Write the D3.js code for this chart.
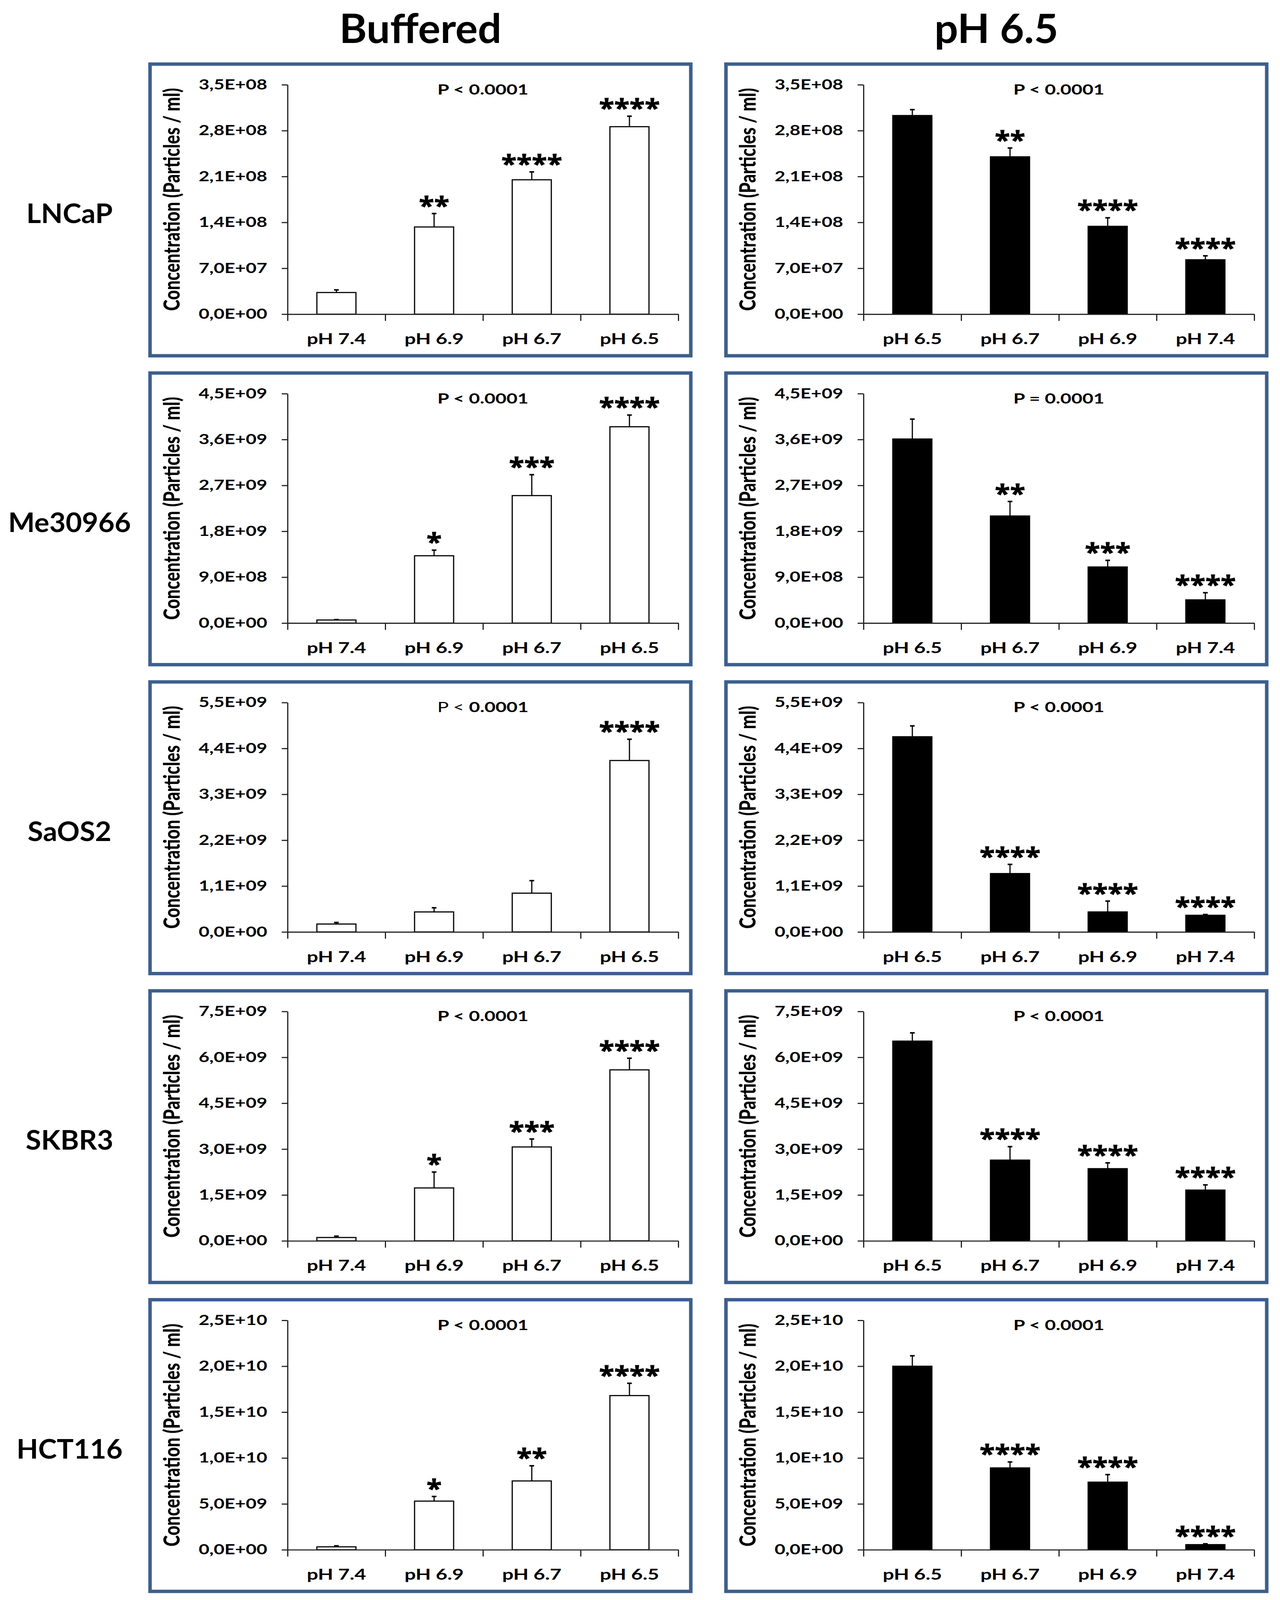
<!DOCTYPE html>
<head>
<meta charset="utf-8">
<script src="https://d3js.org/d3.v7.min.js"></script>
<style>
  html, body { margin: 0; padding: 0; background: #fff; overflow: hidden; }
  svg { display: block; }
  text { font-family: "Lato", "Open Sans", sans-serif; font-weight: 700; fill: #000; }
</style>
</head>
<body>
<div id="datavis"></div>
<script type="text/javascript">
// cell lines (one per row) and the two conditions (one per column)
var cellLines = ["LNCaP", "Me30966", "SaOS2", "SKBR3", "HCT116"];
var columnTitles = ["Buffered", "pH 6.5"];

// x categories of each column
var bufferedCats = ["pH 7.4", "pH 6.9", "pH 6.7", "pH 6.5"];
var acidCats = ["pH 6.5", "pH 6.7", "pH 6.9", "pH 7.4"];

// y axis: max and tick step per row
var yMax  = [3.5e8, 4.5e9, 5.5e9, 7.5e9, 2.5e10];
var yStep = [7.0e7, 9.0e8, 1.1e9, 1.5e9, 5.0e9];

// Buffered column: means and upper error (SD) per row
var bufferedMean = [
  [3.3e7, 1.33e8, 2.05e8, 2.86e8],
  [6.0e7, 1.32e9, 2.50e9, 3.85e9],
  [1.9e8, 4.8e8, 9.3e8, 4.11e9],
  [1.1e8, 1.73e9, 3.07e9, 5.59e9],
  [3.2e8, 5.30e9, 7.50e9, 1.68e10]
];
var bufferedErr = [
  [4.0e6, 2.05e7, 1.2e7, 1.6e7],
  [8.0e6, 1.1e8, 4.1e8, 2.3e8],
  [3.7e7, 1.0e8, 3.0e8, 5.1e8],
  [4.4e7, 5.2e8, 2.6e8, 3.8e8],
  [1.1e8, 5.1e8, 1.65e9, 1.34e9]
];
var bufferedStars = [
  ["", "**", "****", "****"],
  ["", "*", "***", "****"],
  ["", "", "", "****"],
  ["", "*", "***", "****"],
  ["", "*", "**", "****"]
];
// p value text split in two parts (the SaOS2 panel has a light "P <")
var bufferedP = [["P < ", "0.0001"], ["P < ", "0.0001"], ["P < ", "0.0001"], ["P < ", "0.0001"], ["P < ", "0.0001"]];
var bufferedPLight = [false, false, true, false, false];

// pH 6.5 column
var acidMean = [
  [3.03e8, 2.40e8, 1.34e8, 8.3e7],
  [3.61e9, 2.10e9, 1.10e9, 4.55e8],
  [4.68e9, 1.40e9, 4.8e8, 4.0e8],
  [6.53e9, 2.64e9, 2.36e9, 1.66e9],
  [2.00e10, 8.92e9, 7.37e9, 5.6e8]
];
var acidErr = [
  [9.0e6, 1.35e7, 1.3e7, 6.0e6],
  [3.9e8, 2.85e8, 1.3e8, 1.4e8],
  [2.6e8, 2.2e8, 2.6e8, 1.8e7],
  [2.7e8, 4.4e8, 1.9e8, 1.7e8],
  [1.14e9, 6.5e8, 8.2e8, 9.0e7]
];
var acidStars = [
  ["", "**", "****", "****"],
  ["", "**", "***", "****"],
  ["", "****", "****", "****"],
  ["", "****", "****", "****"],
  ["", "****", "****", "****"]
];
var acidP = [["P < ", "0.0001"], ["P = ", "0.0001"], ["P < ", "0.0001"], ["P < ", "0.0001"], ["P < ", "0.0001"]];
var acidPLight = [false, false, false, false, false];

var yTitle = "Concentration (Particles / ml)";

// page layout (drawn in a 3276 x 4268 frame, fitted to the window)
var W = 3276, H = 4268;
var boxX = [384, 1858], boxW = 1384, boxH = 778;
var boxTop = function(i) { return 171 + i * 824; };
var plot = {left: 352, top: 55, width: 1000, height: 612};
var kx = 1.28;   // panels are stretched horizontally in the original figure

var svg = d3.select("#datavis").append("svg")
  .attr("viewBox", "0 0 " + W + " " + H)
  .attr("preserveAspectRatio", "none")
  .style("width", "100vw")
  .style("height", "100vh");
svg.append("rect").attr("width", W).attr("height", H).attr("fill", "#fff");

// widen (or squeeze) a text to mimic the stretched panels
function stretch(sel, k) {
  sel.each(function() {
    var w = this.getComputedTextLength();
    if (w > 0) {
      this.setAttribute("textLength", w * k);
      this.setAttribute("lengthAdjust", "spacingAndGlyphs");
    }
  });
}

// 3.5e8 -> "3,5E+08"
function sci(v) {
  if (v === 0) return "0,0E+00";
  var e = Math.floor(Math.log10(v) + 1e-9);
  var m = (v / Math.pow(10, e)).toFixed(1).replace(".", ",");
  return m + "E+" + (e < 10 ? "0" + e : e);
}

// column titles
columnTitles.forEach(function(t, c) {
  svg.append("text")
    .attr("x", boxX[c] + boxW / 2)
    .attr("y", 115)
    .attr("text-anchor", "middle")
    .style("font-size", "107px")
    .text(t);
});

// row labels
cellLines.forEach(function(name, r) {
  svg.append("text")
    .attr("x", 178)
    .attr("y", boxTop(r) + 424)
    .attr("text-anchor", "middle")
    .style("font-size", "72px")
    .text(name);
});

function drawPanel(r, c, cats, means, errs, stars, ptext, plight, filled) {
  var bx = boxX[c], by = boxTop(r);

  svg.append("rect")
    .attr("x", bx).attr("y", by)
    .attr("width", boxW).attr("height", boxH)
    .attr("fill", "#fff")
    .attr("stroke", "#3c5f8d")
    .attr("stroke-width", 9);

  var g = svg.append("g")
    .attr("transform", "translate(" + (bx + plot.left) + "," + (by + plot.top) + ")");

  var x = d3.scaleBand().domain(cats).range([0, plot.width])
    .paddingInner(0.6).paddingOuter(0.3);
  var y = d3.scaleLinear().domain([0, yMax[r]]).range([plot.height, 0]);
  var ticks = d3.range(0, yMax[r] + yStep[r] / 2, yStep[r]);

  // y axis
  var ya = g.append("g")
    .call(d3.axisLeft(y).tickValues(ticks).tickFormat(sci)
      .tickSize(15).tickSizeOuter(0).tickPadding(37));
  ya.select(".domain").attr("stroke", "#222").attr("stroke-width", 3);
  ya.selectAll(".tick line").attr("stroke", "#222").attr("stroke-width", 3);
  ya.selectAll("text").attr("font-family", null).attr("font-size", null)
    .style("font-size", "37px");
  stretch(ya.selectAll("text"), kx);

  // bars
  g.selectAll(".bar").data(cats).enter().append("rect")
    .attr("x", function(d) { return x(d); })
    .attr("y", function(d, i) { return y(means[i]); })
    .attr("width", x.bandwidth())
    .attr("height", function(d, i) { return plot.height - y(means[i]); })
    .attr("fill", filled ? "#000" : "#fff")
    .attr("stroke", "#000")
    .attr("stroke-width", 3);

  // upper error bars
  var eb = g.selectAll(".err").data(cats).enter().append("g");
  eb.append("line")
    .attr("x1", function(d) { return x(d) + x.bandwidth() / 2; })
    .attr("x2", function(d) { return x(d) + x.bandwidth() / 2; })
    .attr("y1", function(d, i) { return y(means[i]); })
    .attr("y2", function(d, i) { return y(means[i] + errs[i]); })
    .attr("stroke", "#000").attr("stroke-width", 3);
  eb.append("line")
    .attr("x1", function(d) { return x(d) + x.bandwidth() / 2 - 6; })
    .attr("x2", function(d) { return x(d) + x.bandwidth() / 2 + 6; })
    .attr("y1", function(d, i) { return y(means[i] + errs[i]); })
    .attr("y2", function(d, i) { return y(means[i] + errs[i]); })
    .attr("stroke", "#000").attr("stroke-width", 4);

  // x axis line with ticks at category boundaries
  var xb = d3.scaleLinear().domain([0, cats.length]).range([0, plot.width]);
  var xa = g.append("g")
    .attr("transform", "translate(0," + plot.height + ")")
    .call(d3.axisBottom(xb).tickValues(d3.range(0, cats.length + 1))
      .tickFormat("").tickSize(18).tickSizeOuter(0));
  xa.select(".domain").attr("stroke", "#222").attr("stroke-width", 3);
  xa.selectAll(".tick line").attr("stroke", "#222").attr("stroke-width", 3);

  // category labels
  var xl = g.append("g")
    .attr("transform", "translate(0," + plot.height + ")")
    .call(d3.axisBottom(x).tickSize(0));
  xl.select(".domain").remove();
  xl.selectAll("text").attr("font-family", null).attr("font-size", null)
    .attr("y", 80).attr("dy", null)
    .style("font-size", "40px");
  stretch(xl.selectAll("text"), kx);

  // significance stars
  var st = g.selectAll(".star").data(cats).enter().append("text")
    .attr("x", function(d) { return x(d) + x.bandwidth() / 2; })
    .attr("y", function(d, i) { return y(means[i] + errs[i]) + 2; })
    .attr("text-anchor", "middle")
    .style("font-family", "'Open Sans', sans-serif")
    .style("font-weight", 800)
    .style("font-size", "66px")
    .text(function(d, i) { return stars[i]; });
  stretch(st, 1.1);

  // p value
  var pt = g.append("text")
    .attr("x", plot.width / 2)
    .attr("y", 26)
    .attr("text-anchor", "middle")
    .style("font-size", "38px");
  pt.append("tspan").style("font-weight", plight ? 400 : 700).text(ptext[0]);
  pt.append("tspan").text(ptext[1]);
  stretch(pt, kx);

  // y axis title
  var yt = svg.append("text")
    .attr("transform", "translate(" + (bx + 76) + "," + (by + plot.top + plot.height / 2) + ") rotate(-90)")
    .attr("text-anchor", "middle")
    .style("font-size", "58px")
    .style("font-weight", 900)
    .text(yTitle);
  stretch(yt, 1 / kx);
}

cellLines.forEach(function(name, r) {
  drawPanel(r, 0, bufferedCats, bufferedMean[r], bufferedErr[r], bufferedStars[r], bufferedP[r], bufferedPLight[r], false);
  drawPanel(r, 1, acidCats, acidMean[r], acidErr[r], acidStars[r], acidP[r], acidPLight[r], true);
});
</script>
</body>
